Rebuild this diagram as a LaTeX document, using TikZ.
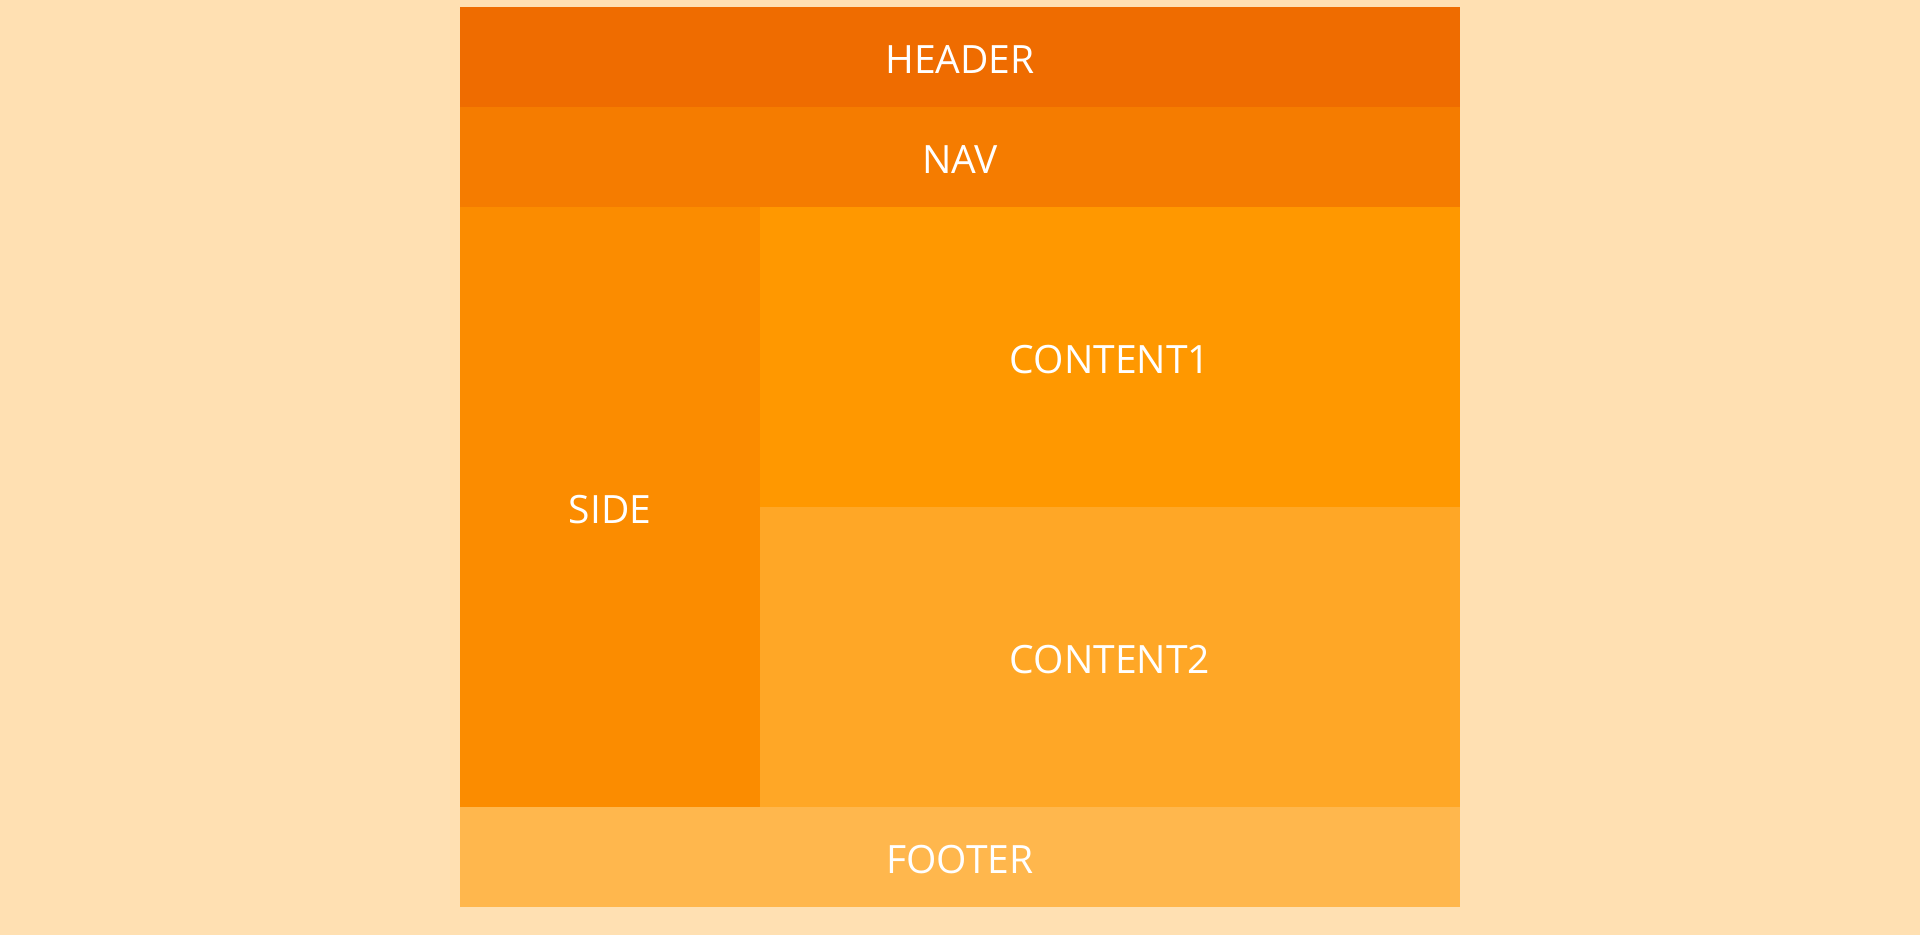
\documentclass[tikz,border=0pt]{standalone}
\usepackage{fontspec}
\setmainfont{Open Sans}
\usetikzlibrary{positioning}
\definecolor{pagebg}{HTML}{FFE0B2}
\definecolor{headerc}{HTML}{EF6C00}
\definecolor{navc}{HTML}{F57C00}
\definecolor{sidec}{HTML}{FB8C00}
\definecolor{contentA}{HTML}{FF9800}
\definecolor{contentB}{HTML}{FFA726}
\definecolor{footerc}{HTML}{FFB74D}
\tikzset{%
  x=1pt, y=1pt,
  node distance=0pt,
  area/.style={        % one cell of the page grid
    inner sep=0pt,
    outer sep=0pt,
    text=white,
    text height=32pt,
    text depth=0pt,
    font=\fontsize{39}{46}\selectfont},
  wide/.style={area, minimum width=1000pt, minimum height=100pt},
  half/.style={area, minimum width=700pt, minimum height=300pt}
}
\begin{document}
\begin{tikzpicture}
  \fill[pagebg] (0,0) rectangle (1920,-935);
  \useasboundingbox (0,0) rectangle (1920,-935);

  \node[wide, fill=headerc, anchor=north west] (header) at (460,-7) {HEADER};
  \node[wide, fill=navc, below=of header] (nav) {NAV};
  \node[area, fill=sidec, minimum width=300pt, minimum height=600pt,
        below right=of nav.south west] (side) {SIDE};
  \node[half, fill=contentA, anchor=north west] (content1) at (side.north east) {CONTENT1};
  \node[half, fill=contentB, below=of content1] (content2) {CONTENT2};
  \node[wide, fill=footerc, below right=of side.south west] (footer) {FOOTER};

\end{tikzpicture}
\end{document}
